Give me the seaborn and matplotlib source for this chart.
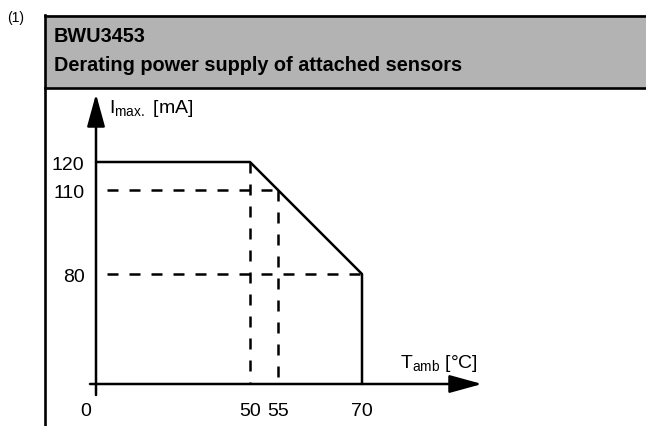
import numpy as np
import matplotlib
matplotlib.use("Agg")
import matplotlib.pyplot as plt
import seaborn as sns
from matplotlib.lines import Line2D
from matplotlib.patches import Rectangle
from matplotlib.transforms import ScaledTranslation

# ---------------- data ----------------
temp_profile = [0, 50, 70, 70]          # T_amb [°C]
current_profile = [120, 120, 80, 0]     # I_max [mA]
guide_h_levels = [110, 80]              # horizontal dashed guides
guide_h_ends = [55, 70]
guide_v_temps = [50, 55]                # vertical dashed guides
guide_v_tops = [120, 110]
x_ticks = [0, 50, 55, 70]
x_ticklabels = ["0", "50", "55", "70"]
y_ticks = [80, 110, 120]
y_ticklabels = ["80", "110", "120"]
title_line1 = "BWU3453"
title_line2 = "Derating power supply of attached sensors"
note_text = "(1)"
y_label = r"I$_{\mathregular{max.}}$ [mA]"
x_label = r"T$_{\mathregular{amb}}$ [°C]"

# ---------------- style ----------------
sns.set_theme(style="white")
plt.rcParams["font.family"] = ["Liberation Sans", "DejaVu Sans"]
plt.rcParams["mathtext.fontset"] = "custom"
plt.rcParams["mathtext.rm"] = "Liberation Sans"
plt.rcParams["text.color"] = "black"
plt.rcParams["xtick.color"] = "black"
plt.rcParams["ytick.color"] = "black"

W, H, DPI = 646, 427, 100
fig = plt.figure(figsize=(W / DPI, H / DPI), dpi=DPI)
fig.patch.set_facecolor("white")

def fx(px):
    return px / W

def fy(py):
    return 1 - py / H

# frame / header
fig.add_artist(Rectangle((fx(45), fy(89)), fx(646) - fx(45), fy(16) - fy(89),
                         transform=fig.transFigure, facecolor="#b3b3b3",
                         edgecolor="none", zorder=0))
for (x0, y0, x1, y1) in [(44.5, 16.8, 646, 16.8), (44.5, 89, 646, 89),
                         (44.5, 15.8, 44.5, 427)]:
    fig.add_artist(Line2D([fx(x0), fx(x1)], [fy(y0), fy(y1)],
                          transform=fig.transFigure, color="black",
                          lw=1.9, solid_capstyle="projecting"))
fig.text(fx(7), fy(22), note_text, fontsize=10, va="baseline", ha="left")
fig.text(fx(54), fy(42), title_line1, fontsize=14.3, fontweight="bold",
         va="baseline", ha="left")
fig.text(fx(54), fy(71), title_line2, fontsize=14.3, fontweight="bold",
         va="baseline", ha="left")

# ---------------- chart axes (schematic, piecewise scale) ----------------
ax = fig.add_axes([fx(90), fy(396), fx(482) - fx(90), fy(95) - fy(396)])
ax.set_facecolor("none")

xs_d = np.array([-100.0, 0.0, 50.0, 200.0])
xs_p = np.array([-308.0, 0.0, 154.0, 154.0 + 150 * 5.6])
ys_d = np.array([-100.0, 0.0, 80.0, 300.0])
ys_p = np.array([-137.5, 0.0, 110.0, 110.0 + 220 * 2.8])

ax.set_xscale("function", functions=(lambda v: np.interp(v, xs_d, xs_p),
                                     lambda v: np.interp(v, xs_p, xs_d)))
ax.set_yscale("function", functions=(lambda v: np.interp(v, ys_d, ys_p),
                                     lambda v: np.interp(v, ys_p, ys_d)))
xmin, xmax = -1.95, 70 + 120 / 5.6
ymin, ymax = -8.0, 120 + 68 / 2.8
ax.set_xlim(xmin, xmax)
ax.set_ylim(ymin, ymax)
for s in ax.spines.values():
    s.set_visible(False)

on = 4.4
for lvl, xe in zip(guide_h_levels, guide_h_ends):
    ax.plot([0, xe], [lvl, lvl], color="black", lw=1.8, ls=(on, (on, on)),
            zorder=2)
for xt, yt in zip(guide_v_temps, guide_v_tops):
    ax.plot([xt, xt], [yt, 0], color="black", lw=1.8, ls=(0, (on, on)),
            zorder=2)

sns.lineplot(x=temp_profile, y=current_profile, sort=False, estimator=None,
             color="black", lw=1.8, ax=ax, zorder=3)

# axes with arrows
arrow_kw = dict(arrowstyle="-|>,head_length=2.0,head_width=0.55",
                color="black", lw=1.8, shrinkA=0, shrinkB=0,
                mutation_scale=10)
ax.annotate("", xy=(xmax, 0), xytext=(xmin, 0), arrowprops=arrow_kw,
            annotation_clip=False)
ax.annotate("", xy=(0, ymax), xytext=(0, ymin), arrowprops=arrow_kw,
            annotation_clip=False)

# ticks
ax.set_xticks(x_ticks)
ax.set_xticklabels(x_ticklabels, fontsize=14)
ax.set_yticks(y_ticks)
ax.set_yticklabels(y_ticklabels, fontsize=14)
ax.tick_params(axis="x", length=0, pad=5)
ax.tick_params(axis="y", length=0, pad=4)
ax.xaxis.get_majorticklabels()[0].set_transform(
    ax.xaxis.get_majorticklabels()[0].get_transform()
    + ScaledTranslation(-0.10, 0, fig.dpi_scale_trans))

# axis labels
fig.text(fx(109), fy(113), y_label, fontsize=14, va="baseline", ha="left")
fig.text(fx(400), fy(368), x_label, fontsize=14, va="baseline", ha="left")

fig.savefig("out.png", dpi=DPI)
